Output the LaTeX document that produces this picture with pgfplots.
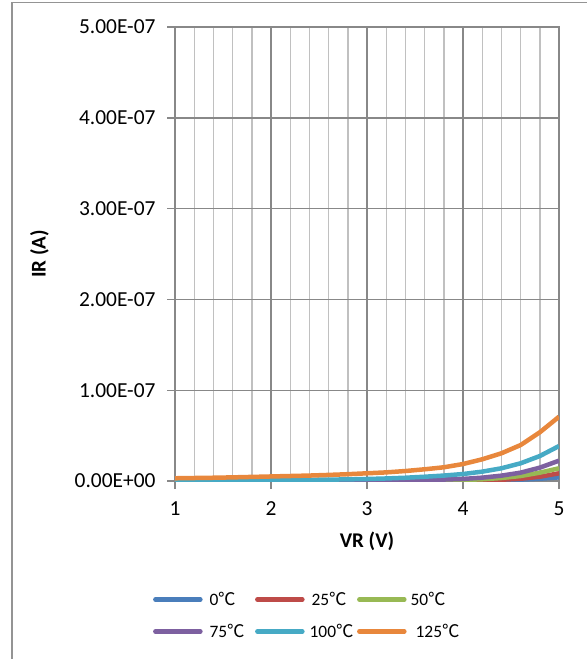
\documentclass[border=0pt]{standalone}
\usepackage{pgfplots}
\pgfplotsset{compat=1.18}
\usepackage{pgfplotstable}
\usepackage{fontspec}
\setmainfont{Carlito}
\newfontfamily\cjk{Noto Sans CJK SC}
\newcommand{\degC}{{\cjk ℃}}
\definecolor{cA}{HTML}{4A7EBB}
\definecolor{cB}{HTML}{BE4B48}
\definecolor{cC}{HTML}{98B954}
\definecolor{cD}{HTML}{7D60A0}
\definecolor{cE}{HTML}{46AAC5}
\definecolor{cF}{HTML}{E8873C}
\definecolor{gmaj}{HTML}{888888}
\definecolor{gmin}{HTML}{C0C0C0}

\pgfplotstableread{
x    t0       t25      t50      t75      t100     t125
1.0  0        0        0        0.01e-8  0.05e-8  0.30e-8
1.2  0        0        0        0.01e-8  0.06e-8  0.33e-8
1.4  0        0        0        0.01e-8  0.07e-8  0.36e-8
1.6  0        0        0        0.01e-8  0.08e-8  0.40e-8
1.8  0        0        0.01e-8  0.01e-8  0.09e-8  0.45e-8
2.0  0        0        0.01e-8  0.02e-8  0.10e-8  0.50e-8
2.2  0        0        0.01e-8  0.02e-8  0.11e-8  0.55e-8
2.4  0        0        0.01e-8  0.02e-8  0.13e-8  0.60e-8
2.6  0        0        0.01e-8  0.03e-8  0.15e-8  0.67e-8
2.8  0        0.01e-8  0.01e-8  0.04e-8  0.18e-8  0.75e-8
3.0  0        0.01e-8  0.02e-8  0.05e-8  0.22e-8  0.85e-8
3.2  0.01e-8  0.01e-8  0.02e-8  0.07e-8  0.28e-8  0.95e-8
3.4  0.01e-8  0.01e-8  0.03e-8  0.09e-8  0.36e-8  1.10e-8
3.6  0.01e-8  0.02e-8  0.05e-8  0.12e-8  0.47e-8  1.29e-8
3.8  0.02e-8  0.03e-8  0.07e-8  0.16e-8  0.60e-8  1.51e-8
4.0  0.03e-8  0.05e-8  0.11e-8  0.23e-8  0.77e-8  1.87e-8
4.2  0.05e-8  0.08e-8  0.19e-8  0.37e-8  1.03e-8  2.39e-8
4.4  0.08e-8  0.14e-8  0.33e-8  0.59e-8  1.40e-8  3.05e-8
4.6  0.15e-8  0.25e-8  0.55e-8  0.92e-8  1.95e-8  3.96e-8
4.8  0.25e-8  0.47e-8  0.92e-8  1.47e-8  2.75e-8  5.36e-8
5.0  0.40e-8  0.85e-8  1.40e-8  2.24e-8  3.85e-8  7.08e-8
}\data

\begin{document}
\begin{tikzpicture}
\useasboundingbox (0bp,0bp) rectangle (587bp,-659bp);
\draw[gmaj!90, line width=1.2bp] (12bp,-2.5bp) rectangle (640bp,-720bp);
\begin{axis}[
  at={(175bp,-481bp)}, anchor=south west,
  scale only axis, width=384bp, height=454bp,
  xmin=1, xmax=5, ymin=0, ymax=5e-7,
  scaled y ticks=false,
  xtick={1,2,3,4,5}, xticklabels={1,2,3,4,5},
  minor x tick num=4,
  ytick={0,1e-7,2e-7,3e-7,4e-7,5e-7},
  yticklabels={0.00E+00,1.00E-07,2.00E-07,3.00E-07,4.00E-07,5.00E-07},
  /pgf/number format/assume math mode=true,
  xmajorgrids, xminorgrids, ymajorgrids,
  major grid style={color=gmaj, line width=1.4bp},
  minor grid style={color=gmin, line width=1.4bp},
  axis line style={gmaj, line width=1.4bp},
  tick style={gmaj, line width=1.4bp},
  tick align=outside, major tick length=8bp, minor tick length=0pt,
  tick pos=left,
  ticklabel style={font=\fontsize{21.5}{25}\selectfont},
  yticklabel style={xshift=-8bp},
  xticklabel style={yshift=-9bp},
  xlabel={VR (V)}, ylabel={IR (A)},
  label style={font=\fontsize{21}{25}\selectfont\bfseries},
  xlabel style={yshift=-10bp},
  ylabel style={yshift=19bp},
  legend columns=3,
  legend cell align=left,
  legend style={draw=none, fill=none, at={(-0.0575,-0.24)}, anchor=north west,
    font=\fontsize{17.5}{21}\selectfont, inner sep=0pt,
    /tikz/every even column/.append style={column sep=0.5bp},
    row sep=13bp},
  legend image code/.code={\draw[#1, line cap=round, line width=4.5bp] (0bp,0bp) -- (45bp,0bp);},
  every axis plot/.append style={line width=4.5bp, no markers},
]
\addplot[cA] table[x=x,y=t0]{\data};
\addlegendentry{\makebox[48bp][l]{\hspace{5bp}0\degC}}
\addplot[cB] table[x=x,y=t25]{\data};
\addlegendentry{\makebox[48bp][l]{\hspace{5bp}25\degC}}
\addplot[cC] table[x=x,y=t50]{\data};
\addlegendentry{\makebox[48bp][l]{\hspace{2bp}50\degC}}
\addplot[cD] table[x=x,y=t75]{\data};
\addlegendentry{\makebox[48bp][l]{\hspace{5bp}75\degC}}
\addplot[cE] table[x=x,y=t100]{\data};
\addlegendentry{\makebox[48bp][l]{\hspace{3bp}100\degC}}
\addplot[cF] table[x=x,y=t125]{\data};
\addlegendentry{\makebox[48bp][l]{\hspace{7bp}125\degC}}
\end{axis}
\end{tikzpicture}
\end{document}
